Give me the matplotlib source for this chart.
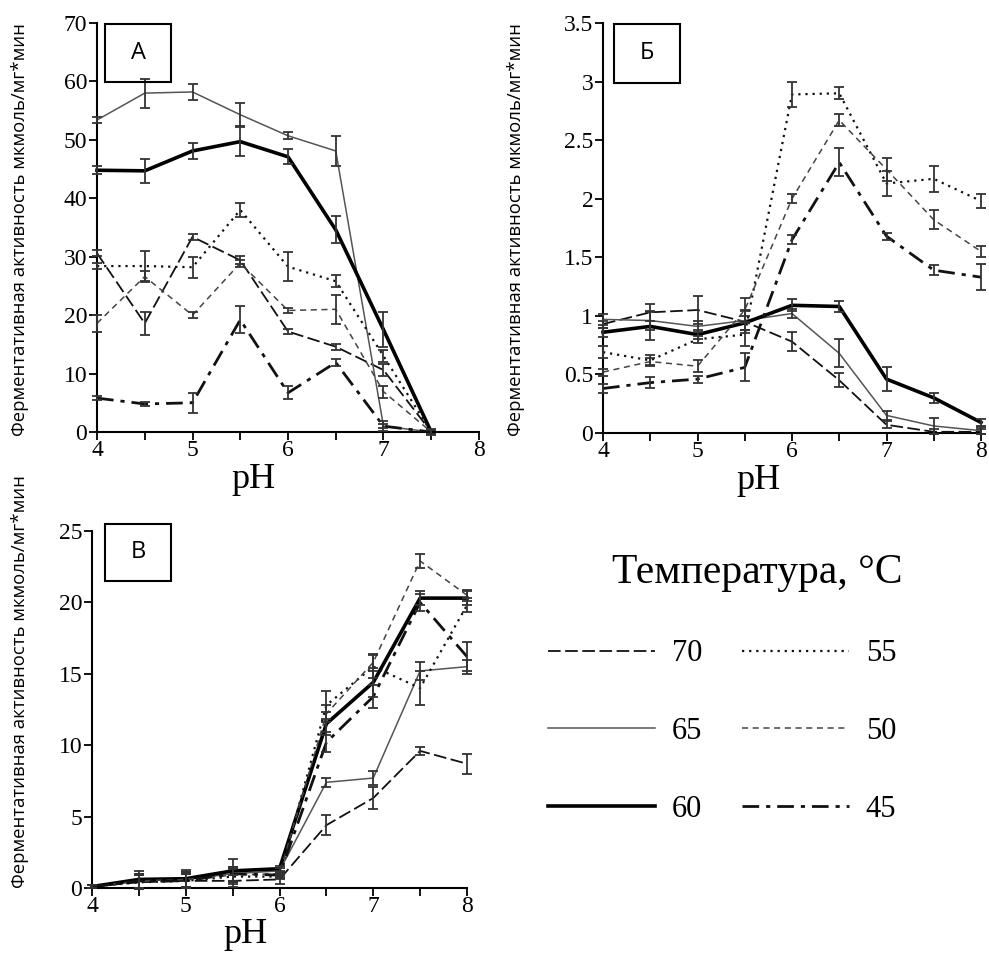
import matplotlib
matplotlib.use("Agg")
import matplotlib.pyplot as plt
from matplotlib.patches import Rectangle
import numpy as np

# ---------------- data ----------------
temps = ["70", "65", "60", "55", "50", "45"]

ph_a = [4.0, 4.5, 5.0, 5.5, 6.0, 6.5, 7.0, 7.5]
a_70 = [30.6, 18.6, 33.4, 29.4, 17.2, 14.6, 10.6, 0.0]
a_65 = [53.4, 58.0, 58.2, 54.3, 50.7, 48.1, 1.0, 0.0]
a_60 = [44.8, 44.7, 48.1, 49.7, 47.1, 34.6, 17.5, 0.0]
a_55 = [28.4, 28.4, 28.2, 38.0, 28.3, 25.8, 13.0, 0.0]
a_50 = [18.6, 26.6, 20.0, 28.9, 20.8, 21.0, 6.9, 0.0]
a_45 = [5.8, 4.8, 5.0, 19.2, 6.7, 11.9, 1.0, 0.0]
a_70_err = [0.5, 2.0, 0.5, 0.7, 0.5, 0.5, 1.0, 0.3]
a_65_err = [0.5, 2.5, 1.3, 2.0, 0.6, 2.5, 0.4, 0.3]
a_60_err = [0.7, 2.0, 1.3, 2.5, 1.3, 2.3, 3.0, 0.5]
a_55_err = [0.5, 2.5, 1.8, 1.2, 2.5, 1.0, 1.0, 0.3]
a_50_err = [1.5, 1.0, 0.5, 0.6, 0.5, 2.5, 1.0, 0.3]
a_45_err = [0.3, 0.4, 1.7, 2.3, 1.1, 0.6, 0.8, 0.3]

ph_b = [4.0, 4.5, 5.0, 5.5, 6.0, 6.5, 7.0, 7.5, 8.0]
b_70 = [0.93, 1.03, 1.05, 0.95, 0.78, 0.45, 0.07, 0.01, 0.01]
b_65 = [0.97, 0.96, 0.91, 0.96, 1.02, 0.68, 0.15, 0.06, 0.02]
b_60 = [0.86, 0.91, 0.84, 0.94, 1.09, 1.08, 0.46, 0.30, 0.09]
b_55 = [0.69, 0.62, 0.80, 0.84, 2.89, 2.90, 2.13, 2.17, 1.98]
b_50 = [0.52, 0.61, 0.57, 1.05, 2.00, 2.67, 2.25, 1.82, 1.55]
b_45 = [0.38, 0.43, 0.46, 0.56, 1.65, 2.31, 1.68, 1.39, 1.33]
b_70_err = [0.03, 0.07, 0.12, 0.10, 0.08, 0.06, 0.03, 0.02, 0.02]
b_65_err = [0.05, 0.08, 0.05, 0.08, 0.04, 0.12, 0.04, 0.07, 0.03]
b_60_err = [0.04, 0.12, 0.04, 0.06, 0.05, 0.05, 0.10, 0.04, 0.03]
b_55_err = [0.05, 0.05, 0.03, 0.10, 0.11, 0.05, 0.11, 0.11, 0.06]
b_50_err = [0.03, 0.03, 0.05, 0.10, 0.04, 0.05, 0.10, 0.08, 0.05]
b_45_err = [0.04, 0.05, 0.03, 0.12, 0.04, 0.12, 0.03, 0.04, 0.11]

ph_c = [4.0, 4.5, 5.0, 5.5, 6.0, 6.5, 7.0, 7.5, 8.0]
c_70 = [0.1, 0.4, 0.5, 0.5, 0.6, 4.4, 6.3, 9.6, 8.7]
c_65 = [0.1, 0.5, 0.6, 1.0, 1.2, 7.4, 7.7, 15.2, 15.5]
c_60 = [0.1, 0.6, 0.65, 1.2, 1.35, 11.5, 14.4, 20.3, 20.3]
c_55 = [0.1, 0.4, 0.5, 0.8, 0.8, 12.8, 15.5, 14.0, 19.8]
c_50 = [0.1, 0.5, 0.6, 0.9, 1.0, 12.2, 15.8, 22.9, 20.5]
c_45 = [0.1, 0.5, 0.5, 1.0, 0.9, 10.2, 13.4, 20.0, 16.2]
c_70_err = [0.1, 0.5, 0.5, 0.4, 0.3, 0.7, 0.8, 0.3, 0.7]
c_65_err = [0.1, 0.5, 0.5, 0.5, 0.2, 0.3, 0.5, 0.6, 0.5]
c_60_err = [0.1, 0.6, 0.6, 0.8, 0.2, 0.8, 1.0, 0.5, 0.5]
c_55_err = [0.1, 0.5, 0.5, 0.5, 0.2, 1.0, 0.8, 1.2, 0.5]
c_50_err = [0.1, 0.5, 0.5, 0.5, 0.2, 0.6, 0.6, 0.5, 0.4]
c_45_err = [0.1, 0.5, 0.5, 0.5, 0.2, 0.7, 0.8, 0.6, 1.0]

y_ticks_a = [0, 10, 20, 30, 40, 50, 60, 70]
y_ticks_b = [0, 0.5, 1, 1.5, 2, 2.5, 3, 3.5]
y_ticklabels_b = ["0", "0.5", "1", "1.5", "2", "2.5", "3", "3.5"]
y_ticks_c = [0, 5, 10, 15, 20, 25]
x_ticks = [4, 5, 6, 7, 8]

ylabel_text = "Ферментативная активность мкмоль/мг*мин"
legend_title = "Температура, °C"

# ---------------- styles ----------------
styles = {
    "70": dict(color="#111111", lw=1.3, dashes=(7, 2.5)),
    "65": dict(color="#555555", lw=1.1, ls="-"),
    "60": dict(color="#000000", lw=2.6, ls="-"),
    "55": dict(color="#111111", lw=1.6, dashes=(1.0, 2.2)),
    "50": dict(color="#444444", lw=1.1, dashes=(4, 3)),
    "45": dict(color="#111111", lw=2.0, dashes=(6, 2.5, 1.5, 2.5)),
}

SERIF = ["Liberation Serif", "DejaVu Serif"]
SANS = ["Open Sans", "DejaVu Sans"]

W, H = 989, 959
fig = plt.figure(figsize=(W / 100, H / 100), dpi=100)


def px_axes(x0, y0, x1, y1):
    return fig.add_axes([x0 / W, 1 - y1 / H, (x1 - x0) / W, (y1 - y0) / H])


def style_axes(ax, ymax, yticks, yticklabels=None):
    ax.set_xlim(4, 8)
    ax.set_ylim(0, ymax)
    ax.spines["top"].set_visible(False)
    ax.spines["right"].set_visible(False)
    for s in ("left", "bottom"):
        ax.spines[s].set_linewidth(1.5)
    ax.set_xticks(x_ticks)
    ax.set_xticks([4.5, 5.5, 6.5, 7.5], minor=True)
    ax.set_yticks(yticks)
    if yticklabels is not None:
        ax.set_yticklabels(yticklabels)
    ax.tick_params(axis="both", which="both", direction="out", length=6, width=1.3,
                   labelsize=17, pad=1)
    ax.tick_params(axis="x", pad=0)
    for lab in ax.get_xticklabels() + ax.get_yticklabels():
        lab.set_fontfamily(SERIF)
    ax.set_xlabel("pH", fontsize=26, family=SERIF, labelpad=0)
    ax.xaxis.set_label_coords(0.41, -0.075)


def draw_series(ax, x, series, errs):
    lines = {}
    for t, y, e in zip(temps, series, errs):
        st = dict(styles[t])
        ln, = ax.plot(x, y, clip_on=False, zorder=3, **st)
        ax.errorbar(x, y, yerr=e, fmt="none", ecolor="#333333", elinewidth=1.3,
                    capsize=3.5, capthick=1.3, zorder=4, clip_on=False)
        lines[t] = ln
    return lines


def box_label(ax, txt, fx0, fy0, fx1, fy1):
    ax.add_patch(Rectangle((fx0, fy0), fx1 - fx0, fy1 - fy0, transform=ax.transAxes,
                           fill=False, lw=1.5, ec="black", clip_on=False, zorder=6))
    ax.text((fx0 + fx1) / 2, (fy0 + fy1) / 2, txt, transform=ax.transAxes,
            ha="center", va="center", fontsize=17, family=SANS, zorder=7)


# Panel A
axA = px_axes(97, 23, 479, 432)
linesA = draw_series(axA, ph_a, [a_70, a_65, a_60, a_55, a_50, a_45],
                     [a_70_err, a_65_err, a_60_err, a_55_err, a_50_err, a_45_err])
style_axes(axA, 70, y_ticks_a)
box_label(axA, "А", 0.021, 0.856, 0.194, 0.998)

# Panel Б
axB = px_axes(603, 23, 981, 433)
draw_series(axB, ph_b, [b_70, b_65, b_60, b_55, b_50, b_45],
            [b_70_err, b_65_err, b_60_err, b_55_err, b_50_err, b_45_err])
style_axes(axB, 3.5, y_ticks_b, y_ticklabels_b)
box_label(axB, "Б", 0.029, 0.854, 0.204, 0.998)

# Panel В
axC = px_axes(92, 531, 467, 888)
draw_series(axC, ph_c, [c_70, c_65, c_60, c_55, c_50, c_45],
            [c_70_err, c_65_err, c_60_err, c_55_err, c_50_err, c_45_err])
style_axes(axC, 25, y_ticks_c)
axC.xaxis.set_label_coords(0.41, -0.085)
box_label(axC, "В", 0.035, 0.860, 0.210, 1.02)

# y labels
for (xc, yc) in [(20, 230), (516, 230), (20, 682)]:
    fig.text(xc / W, 1 - yc / H, ylabel_text, rotation=90, ha="center", va="center",
             fontsize=13.3, family=SANS)

# legend
handles = [linesA[t] for t in temps]
leg = fig.legend(handles, temps, ncol=2, frameon=False,
                 loc="upper left", bbox_to_anchor=(533 / W, 1 - 624 / H),
                 prop={"family": SERIF, "size": 22},
                 handlelength=3.5, handletextpad=0.55, columnspacing=1.3,
                 labelspacing=1.6, borderpad=0)
fig.text(757 / W, 1 - 573 / H, legend_title, ha="center", va="center",
         fontsize=30, family=SERIF)

fig.savefig("out.png", dpi=100)
